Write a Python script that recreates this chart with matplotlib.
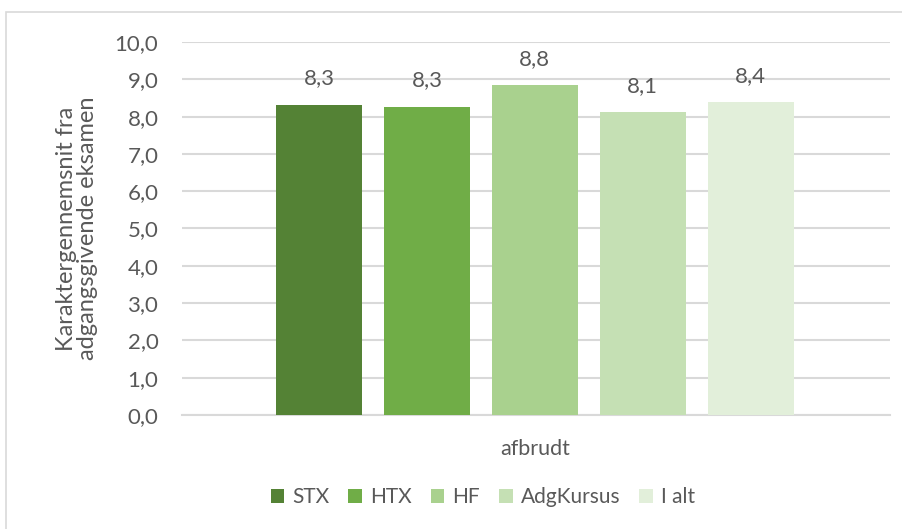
import numpy as np
import matplotlib
matplotlib.use("Agg")
import matplotlib.pyplot as plt
from matplotlib.patches import Rectangle

# data
series = ["STX", "HTX", "HF", "AdgKursus", "I alt"]
values = [8.32, 8.27, 8.84, 8.12, 8.38]
colors = ["#548235", "#70AD47", "#A9D18E", "#C5E0B4", "#E2EFDA"]
category = "afbrudt"
yticks = np.arange(0, 10.01, 1.0)

plt.rcParams["font.family"] = ["Lato", "DejaVu Sans"]
TXT = "#595959"

fig = plt.figure(figsize=(9.03, 5.29), dpi=100)
ax = fig.add_axes([182 / 903, 1 - 415 / 529, 708 / 903, 373 / 529])

# chart border
fig.patches.append(Rectangle((6 / 903, -0.05), 1.1, 1 - 12 / 529 + 0.05,
                             transform=fig.transFigure, fill=False,
                             edgecolor="#D9D9D9", linewidth=1.2))

offsets = np.arange(len(series)) - (len(series) - 1) / 2
handles = []
for off, val, col, name in zip(offsets, values, colors, series):
    b = ax.bar(off, val, width=0.8, color=col, label=name, zorder=3)
    handles.append(b)
    ax.annotate(f"{val:.1f}".replace(".", ","), xy=(off, val),
                xytext=(0, 19), textcoords="offset points",
                ha="center", va="center", fontsize=16, color=TXT)

ax.set_xlim(-3.27, 3.29)
ax.set_ylim(0, 10)
ax.set_yticks(yticks)
ax.set_yticklabels([f"{t:.1f}".replace(".", ",") for t in yticks],
                   fontsize=16, color=TXT)
ax.set_xticks([0])
ax.set_xticklabels([category], fontsize=15.5, color=TXT)
ax.tick_params(axis="both", length=0)
ax.tick_params(axis="y", pad=17)
ax.tick_params(axis="x", pad=17)
ax.grid(axis="y", color="#D9D9D9", linewidth=1.5, zorder=0)
for s in ["top", "right", "left"]:
    ax.spines[s].set_visible(False)
ax.spines["bottom"].set_color("#D9D9D9")
ax.spines["bottom"].set_linewidth(1.5)

ax.set_ylabel("Karaktergennemsnit fra\nadgangsgivende eksamen",
              fontsize=17, color=TXT, labelpad=12, linespacing=1.0)

fig.legend(handles=handles, labels=series, loc="center",
           bbox_to_anchor=(483 / 903, 1 - 497 / 529), ncol=5,
           frameon=False, fontsize=15, labelcolor=TXT,
           handlelength=0.65, handleheight=0.65, handletextpad=0.4,
           columnspacing=0.9)

fig.savefig("out.png", dpi=100)
